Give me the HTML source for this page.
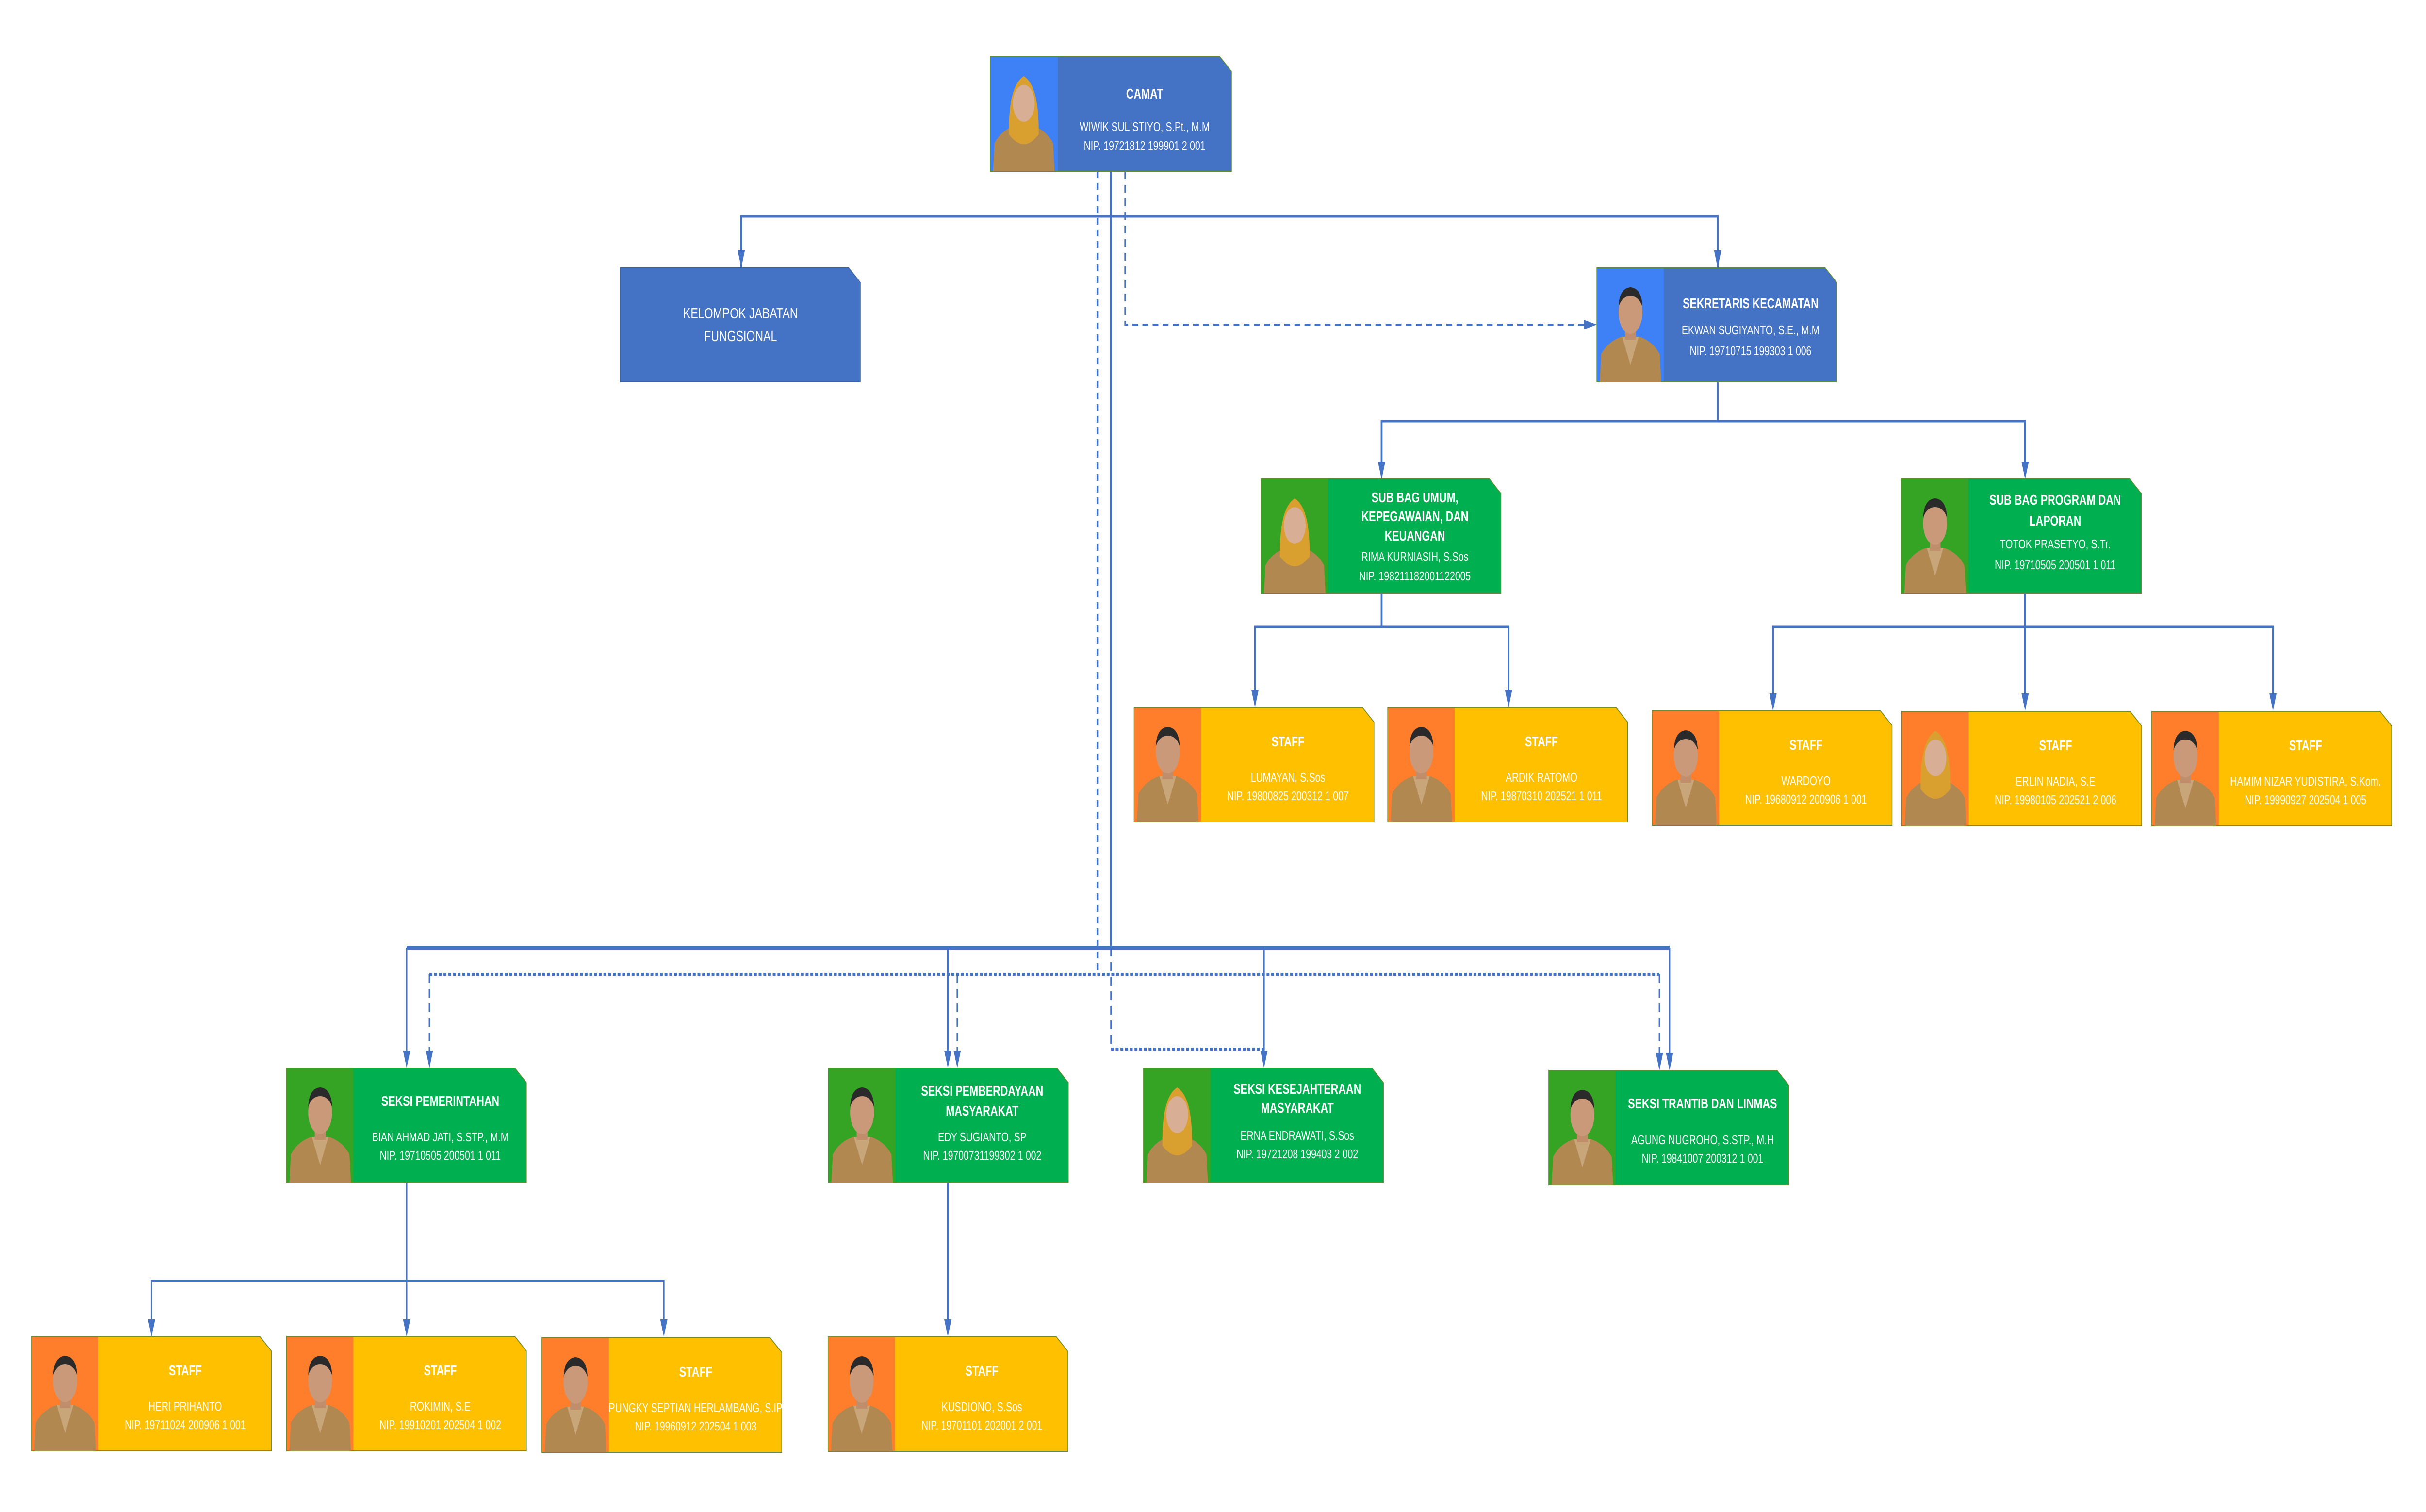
<!DOCTYPE html>
<html><head><meta charset="utf-8"><style>
html,body{margin:0;padding:0;background:#fff;overflow:hidden;width:100%;height:100%;}
svg{display:block;width:100vw;height:100vh;}
text{font-family:"Liberation Sans Narrow","Liberation Sans",sans-serif;fill:#fff;text-anchor:middle;}
.t{font-weight:bold;font-size:29px;}
.n{font-size:26px;}
.k{font-family:"Liberation Sans",sans-serif;font-size:31px;}
</style></head><body>
<svg viewBox="0 0 6706 3116" preserveAspectRatio="none" xmlns="http://www.w3.org/2000/svg">
<defs>
<g id="p">
<path d="M8 236 L12 178 Q30 152 68 142 L118 142 Q156 152 174 178 L178 236 Z" fill="#B08850"/>
<path d="M70 142 L93 200 L116 142 Z" fill="#C9A57A"/>
<rect x="78" y="118" width="30" height="30" fill="#C08E6A"/>
<ellipse cx="93" cy="92" rx="33" ry="44" fill="#C9997A"/>
<path d="M60 80 Q62 42 93 40 Q124 42 126 80 Q116 58 93 58 Q70 58 60 80 Z" fill="#2a2a2a"/>
</g>
<g id="ph">
<path d="M8 236 L12 178 Q30 152 68 142 L118 142 Q156 152 174 178 L178 236 Z" fill="#B08850"/>
<path d="M52 160 Q50 60 93 40 Q136 60 134 160 Q93 200 52 160 Z" fill="#D9A030"/>
<ellipse cx="93" cy="96" rx="30" ry="38" fill="#D8AE94"/>
</g>
</defs>

<g stroke="#4472C4" fill="none">
<line x1="3071" y1="353" x2="3071" y2="1953" stroke-width="5"/>
<polyline points="2049,552 2049,446 4748,446 4748,552" stroke-width="5"/>
<polyline points="3110,353 3110,669 4396,669" stroke-width="4" stroke-dasharray="16 12"/>
<line x1="3034" y1="353" x2="3034" y2="2008" stroke-width="6" stroke-dasharray="14 10"/>
<line x1="1187" y1="2008" x2="4587" y2="2008" stroke-width="6" stroke-dasharray="8 5"/>
<line x1="1187" y1="2008" x2="1187" y2="2190" stroke-width="4" stroke-dasharray="18 12"/>
<line x1="2646" y1="2008" x2="2646" y2="2190" stroke-width="4" stroke-dasharray="18 12"/>
<line x1="4587" y1="2008" x2="4587" y2="2195" stroke-width="4" stroke-dasharray="18 12"/>
<line x1="3071" y1="1953" x2="3071" y2="2162" stroke-width="4" stroke-dasharray="18 12"/>
<line x1="3071" y1="2162" x2="3494" y2="2162" stroke-width="6" stroke-dasharray="8 5"/>
<line x1="1124" y1="1953" x2="4615" y2="1953" stroke-width="8"/>
<line x1="1124" y1="1953" x2="1124" y2="2190" stroke-width="4"/>
<line x1="2620" y1="1953" x2="2620" y2="2190" stroke-width="4"/>
<line x1="3494" y1="1953" x2="3494" y2="2190" stroke-width="4"/>
<line x1="4615" y1="1953" x2="4615" y2="2195" stroke-width="4"/>
<polyline points="4748,787 4748,868" stroke-width="5"/>
<polyline points="3819,980 3819,868 5598,868 5598,980" stroke-width="5"/>
<polyline points="3819,1223 3819,1292" stroke-width="5"/>
<polyline points="3469,1450 3469,1292 4170,1292 4170,1450" stroke-width="5"/>
<polyline points="5598,1223 5598,1292" stroke-width="5"/>
<polyline points="4901,1455 4901,1292 6283,1292 6283,1455" stroke-width="5"/>
<line x1="5598" y1="1292" x2="5598" y2="1455" stroke-width="5"/>
<polyline points="1124,2437 1124,2639" stroke-width="4"/>
<polyline points="419,2745 419,2639 1835,2639 1835,2745" stroke-width="4"/>
<line x1="1124" y1="2639" x2="1124" y2="2745" stroke-width="4"/>
<line x1="2620" y1="2437" x2="2620" y2="2745" stroke-width="4"/>
</g>
<g fill="#4472C4">
<polygon points="2039,516 2059,516 2049,552"/>
<polygon points="4738,516 4758,516 4748,552"/>
<polygon points="4378,659 4378,679 4414,669"/>
<polygon points="3809,952 3829,952 3819,988"/>
<polygon points="5588,952 5608,952 5598,988"/>
<polygon points="3459,1422 3479,1422 3469,1458"/>
<polygon points="4160,1422 4180,1422 4170,1458"/>
<polygon points="4891,1429 4911,1429 4901,1465"/>
<polygon points="5588,1429 5608,1429 5598,1465"/>
<polygon points="6273,1429 6293,1429 6283,1465"/>
<polygon points="1114,2165 1134,2165 1124,2201"/>
<polygon points="1177,2165 1197,2165 1187,2201"/>
<polygon points="2610,2165 2630,2165 2620,2201"/>
<polygon points="2636,2165 2656,2165 2646,2201"/>
<polygon points="3484,2165 3504,2165 3494,2201"/>
<polygon points="4577,2170 4597,2170 4587,2206"/>
<polygon points="4605,2170 4625,2170 4615,2206"/>
<polygon points="409,2719 429,2719 419,2755"/>
<polygon points="1114,2719 1134,2719 1124,2755"/>
<polygon points="1825,2719 1845,2719 1835,2755"/>
<polygon points="2610,2719 2630,2719 2620,2755"/>
</g>

<g transform="translate(2737,117)">
<path d="M0 0H635L667 30V236H0Z" fill="#4472C4" stroke="#5E8C31" stroke-width="2"/>
<rect x="1" y="1" width="186" height="234" fill="#3E80F6"/><use href="#ph"/>
<text class="t" x="427" y="86">CAMAT</text>
<text class="n" x="427" y="153">WIWIK SULISTIYO, S.Pt., M.M</text>
<text class="n" x="427" y="192">NIP. 19721812 199901 2 001</text>
</g>

<g transform="translate(1715,552)">
<path d="M0 0H631L663 30V235H0Z" fill="#4472C4" stroke="#3A62A8" stroke-width="2"/>
<text class="k" x="332" y="104">KELOMPOK JABATAN</text>
<text class="k" x="332" y="151">FUNGSIONAL</text>
</g>

<g transform="translate(4414,552)">
<path d="M0 0H631L663 30V235H0Z" fill="#4472C4" stroke="#5E8C31" stroke-width="2"/>
<rect x="1" y="1" width="184" height="233" fill="#3E80F6"/><use href="#p"/>
<text class="t" x="425" y="83">SEKRETARIS KECAMATAN</text>
<text class="n" x="425" y="137">EKWAN SUGIYANTO, S.E., M.M</text>
<text class="n" x="425" y="180">NIP. 19710715 199303 1 006</text>
</g>

<g transform="translate(3486,987)">
<path d="M0 0H631L663 30V236H0Z" fill="#00B050" stroke="#5E8C31" stroke-width="2"/>
<rect x="1" y="1" width="184" height="234" fill="#35A323"/><use href="#ph"/>
<text class="t" x="425" y="48">SUB BAG UMUM,</text>
<text class="t" x="425" y="87">KEPEGAWAIAN, DAN</text>
<text class="t" x="425" y="127">KEUANGAN</text>
<text class="n" x="425" y="169">RIMA KURNIASIH, S.Sos</text>
<text class="n" x="425" y="209">NIP. 198211182001122005</text>
</g>

<g transform="translate(5256,987)">
<path d="M0 0H631L663 30V236H0Z" fill="#00B050" stroke="#5E8C31" stroke-width="2"/>
<rect x="1" y="1" width="184" height="234" fill="#35A323"/><use href="#p"/>
<text class="t" x="425" y="53">SUB BAG PROGRAM DAN</text>
<text class="t" x="425" y="96">LAPORAN</text>
<text class="n" x="425" y="143">TOTOK PRASETYO, S.Tr.</text>
<text class="n" x="425" y="186">NIP. 19710505 200501 1 011</text>
</g>

<g transform="translate(3135,1458)">
<path d="M0 0H631L663 30V236H0Z" fill="#FFC000" stroke="#6E8A2A" stroke-width="2"/>
<rect x="1" y="1" width="184" height="234" fill="#FE7E2B"/><use href="#p"/>
<text class="t" x="425" y="80">STAFF</text>
<text class="n" x="425" y="153">LUMAYAN, S.Sos</text>
<text class="n" x="425" y="191">NIP. 19800825 200312 1 007</text>
</g>
<g transform="translate(3836,1458)">
<path d="M0 0H631L663 30V236H0Z" fill="#FFC000" stroke="#6E8A2A" stroke-width="2"/>
<rect x="1" y="1" width="184" height="234" fill="#FE7E2B"/><use href="#p"/>
<text class="t" x="425" y="80">STAFF</text>
<text class="n" x="425" y="153">ARDIK RATOMO</text>
<text class="n" x="425" y="191">NIP. 19870310 202521 1 011</text>
</g>
<g transform="translate(4567,1465)">
<path d="M0 0H631L663 30V236H0Z" fill="#FFC000" stroke="#6E8A2A" stroke-width="2"/>
<rect x="1" y="1" width="184" height="234" fill="#FE7E2B"/><use href="#p"/>
<text class="t" x="425" y="80">STAFF</text>
<text class="n" x="425" y="153">WARDOYO</text>
<text class="n" x="425" y="191">NIP. 19680912 200906 1 001</text>
</g>
<g transform="translate(5257,1466)">
<path d="M0 0H631L663 30V236H0Z" fill="#FFC000" stroke="#6E8A2A" stroke-width="2"/>
<rect x="1" y="1" width="184" height="234" fill="#FE7E2B"/><use href="#ph"/>
<text class="t" x="425" y="80">STAFF</text>
<text class="n" x="425" y="153">ERLIN NADIA, S.E</text>
<text class="n" x="425" y="191">NIP. 19980105 202521 2 006</text>
</g>
<g transform="translate(5948,1466)">
<path d="M0 0H631L663 30V236H0Z" fill="#FFC000" stroke="#6E8A2A" stroke-width="2"/>
<rect x="1" y="1" width="184" height="234" fill="#FE7E2B"/><use href="#p"/>
<text class="t" x="425" y="80">STAFF</text>
<text class="n" x="425" y="153">HAMIM NIZAR YUDISTIRA, S.Kom.</text>
<text class="n" x="425" y="191">NIP. 19990927 202504 1 005</text>
</g>

<g transform="translate(792,2201)">
<path d="M0 0H631L663 30V236H0Z" fill="#00B050" stroke="#5E8C31" stroke-width="2"/>
<rect x="1" y="1" width="184" height="234" fill="#35A323"/><use href="#p"/>
<text class="t" x="425" y="78">SEKSI PEMERINTAHAN</text>
<text class="n" x="425" y="151">BIAN AHMAD JATI, S.STP., M.M</text>
<text class="n" x="425" y="189">NIP. 19710505 200501 1 011</text>
</g>
<g transform="translate(2290,2201)">
<path d="M0 0H631L663 30V236H0Z" fill="#00B050" stroke="#5E8C31" stroke-width="2"/>
<rect x="1" y="1" width="184" height="234" fill="#35A323"/><use href="#p"/>
<text class="t" x="425" y="57">SEKSI PEMBERDAYAAN</text>
<text class="t" x="425" y="98">MASYARAKAT</text>
<text class="n" x="425" y="151">EDY SUGIANTO, SP</text>
<text class="n" x="425" y="189">NIP. 19700731199302 1 002</text>
</g>
<g transform="translate(3161,2201)">
<path d="M0 0H631L663 30V236H0Z" fill="#00B050" stroke="#5E8C31" stroke-width="2"/>
<rect x="1" y="1" width="184" height="234" fill="#35A323"/><use href="#ph"/>
<text class="t" x="425" y="53">SEKSI KESEJAHTERAAN</text>
<text class="t" x="425" y="92">MASYARAKAT</text>
<text class="n" x="425" y="148">ERNA ENDRAWATI, S.Sos</text>
<text class="n" x="425" y="186">NIP. 19721208 199403 2 002</text>
</g>
<g transform="translate(4281,2206)">
<path d="M0 0H631L663 30V236H0Z" fill="#00B050" stroke="#5E8C31" stroke-width="2"/>
<rect x="1" y="1" width="184" height="234" fill="#35A323"/><use href="#p"/>
<text class="t" x="425" y="78">SEKSI TRANTIB DAN LINMAS</text>
<text class="n" x="425" y="152">AGUNG NUGROHO, S.STP., M.H</text>
<text class="n" x="425" y="190">NIP. 19841007 200312 1 001</text>
</g>

<g transform="translate(87,2754)">
<path d="M0 0H631L663 30V236H0Z" fill="#FFC000" stroke="#6E8A2A" stroke-width="2"/>
<rect x="1" y="1" width="184" height="234" fill="#FE7E2B"/><use href="#p"/>
<text class="t" x="425" y="80">STAFF</text>
<text class="n" x="425" y="153">HERI PRIHANTO</text>
<text class="n" x="425" y="191">NIP. 19711024 200906 1 001</text>
</g>
<g transform="translate(792,2754)">
<path d="M0 0H631L663 30V236H0Z" fill="#FFC000" stroke="#6E8A2A" stroke-width="2"/>
<rect x="1" y="1" width="184" height="234" fill="#FE7E2B"/><use href="#p"/>
<text class="t" x="425" y="80">STAFF</text>
<text class="n" x="425" y="153">ROKIMIN, S.E</text>
<text class="n" x="425" y="191">NIP. 19910201 202504 1 002</text>
</g>
<g transform="translate(1498,2757)">
<path d="M0 0H631L663 30V236H0Z" fill="#FFC000" stroke="#6E8A2A" stroke-width="2"/>
<rect x="1" y="1" width="184" height="234" fill="#FE7E2B"/><use href="#p"/>
<text class="t" x="425" y="80">STAFF</text>
<text class="n" x="425" y="153">PUNGKY SEPTIAN HERLAMBANG, S.IP</text>
<text class="n" x="425" y="191">NIP. 19960912 202504 1 003</text>
</g>
<g transform="translate(2289,2755)">
<path d="M0 0H631L663 30V236H0Z" fill="#FFC000" stroke="#6E8A2A" stroke-width="2"/>
<rect x="1" y="1" width="184" height="234" fill="#FE7E2B"/><use href="#p"/>
<text class="t" x="425" y="80">STAFF</text>
<text class="n" x="425" y="153">KUSDIONO, S.Sos</text>
<text class="n" x="425" y="191">NIP. 19701101 202001 2 001</text>
</g>
</svg>
</body></html>
